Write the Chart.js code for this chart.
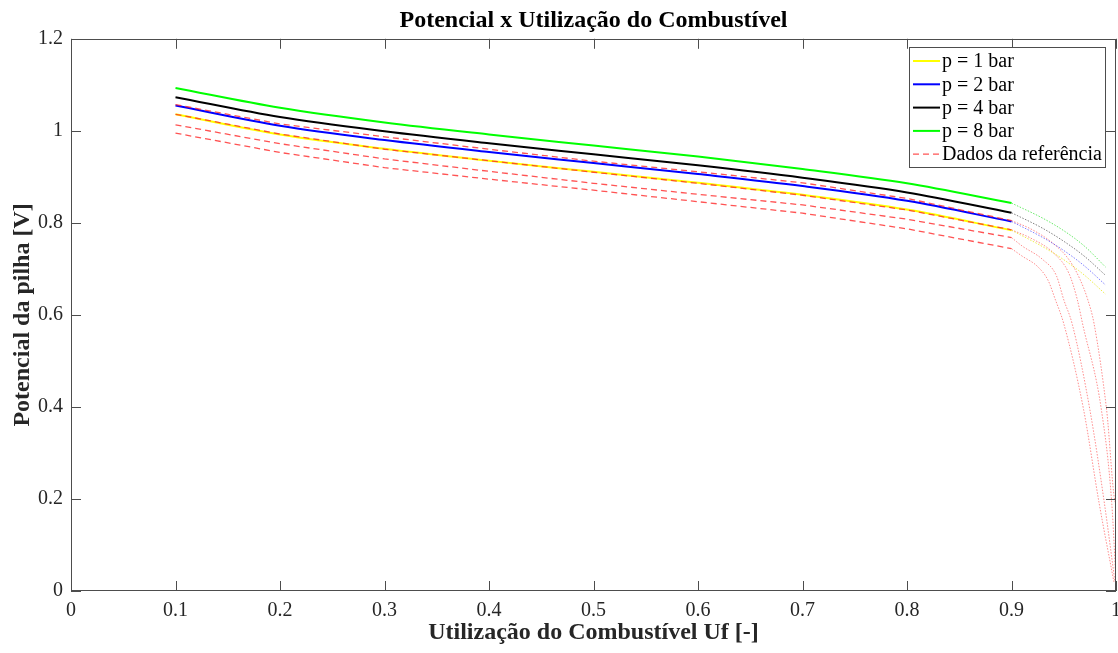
<!DOCTYPE html>
<html lang="pt">
<head>
<meta charset="UTF-8">
<title>Potencial x Utilização do Combustível</title>
<script src="https://cdn.jsdelivr.net/npm/chart.js"></script>
<style>
    body {
        margin: 0;
        padding: 0;
        background: #ffffff;
    }

    .chart-box {
        width: 1118px;
        height: 653px;
    }
</style>
</head>
<body>
<div class="chart-box"><canvas id="curvaPotencial"></canvas></div>

<script>
    // curvas do modelo (linha cheia) de 0.1 a 0.9
    const ufModelo = [0.1, 0.2, 0.3, 0.4, 0.5, 0.6, 0.7, 0.8, 0.9];
    const vP1 = [1.036, 0.992, 0.961, 0.935, 0.911, 0.887, 0.861, 0.829, 0.784];
    const vP2 = [1.055, 1.011, 0.980, 0.954, 0.930, 0.906, 0.880, 0.848, 0.803];
    const vP4 = [1.073, 1.030, 0.999, 0.973, 0.949, 0.925, 0.898, 0.866, 0.822];
    const vP8 = [1.093, 1.050, 1.018, 0.992, 0.968, 0.944, 0.917, 0.886, 0.843];

    // continuação pontilhada do modelo
    const ufCauda = [0.9, 0.93, 0.95, 0.97, 0.99];
    const caudaP1 = [0.784, 0.748, 0.720, 0.686, 0.645];
    const caudaP2 = [0.803, 0.768, 0.740, 0.706, 0.665];
    const caudaP4 = [0.822, 0.788, 0.760, 0.727, 0.686];
    const caudaP8 = [0.843, 0.810, 0.783, 0.749, 0.704];

    // dados da referência (tracejado vermelho)
    const ufRef = [0.1, 0.2, 0.3, 0.4, 0.5, 0.6, 0.7, 0.8, 0.9];
    const ref1 = [1.057, 1.015, 0.987, 0.960, 0.934, 0.911, 0.887, 0.853, 0.805];
    const ref2 = [1.036, 0.993, 0.960, 0.935, 0.910, 0.886, 0.860, 0.828, 0.785];
    const ref3 = [1.013, 0.972, 0.939, 0.912, 0.886, 0.862, 0.839, 0.808, 0.768];
    const ref4 = [0.995, 0.953, 0.920, 0.895, 0.871, 0.846, 0.821, 0.787, 0.744];

    // queda final dos dados da referência (pontilhado vermelho)
    const ufQueda1 = [0.9, 0.92, 0.94, 0.955, 0.965, 0.973, 0.979, 0.991, 1.0, 1.0];
    const vQueda1 = [0.805, 0.785, 0.755, 0.720, 0.680, 0.633, 0.581, 0.394, 0.190, 0.020];
    const ufQueda2 = [0.9, 0.92, 0.94, 0.955, 0.963, 0.968, 0.986, 0.996, 1.0];
    const vQueda2 = [0.785, 0.765, 0.735, 0.690, 0.633, 0.581, 0.394, 0.189, 0.020];
    const ufQueda3 = [0.9, 0.91, 0.93, 0.943, 0.95, 0.958, 0.975, 0.989, 0.999];
    const vQueda3 = [0.768, 0.750, 0.720, 0.685, 0.633, 0.581, 0.394, 0.189, 0.020];
    const ufQueda4 = [0.9, 0.91, 0.925, 0.935, 0.942, 0.95, 0.969, 0.984, 0.998];
    const vQueda4 = [0.744, 0.728, 0.705, 0.675, 0.633, 0.581, 0.394, 0.189, 0.020];

    const xTicks = ['0', '0.1', '0.2', '0.3', '0.4', '0.5', '0.6', '0.7', '0.8', '0.9', '1'];
    const yTicks = ['0', '0.2', '0.4', '0.6', '0.8', '1', '1.2'];

    const fonte = "'Liberation Serif', 'Times New Roman', serif";

    const pares = (xs, ys) => xs.map((x, i) => ({ x: x, y: ys[i] }));

    function cheia(label, cor, xs, ys) {
        return {
            label: label, data: pares(xs, ys), borderColor: cor, borderWidth: 2,
            cubicInterpolationMode: 'monotone', pointRadius: 0, order: 1, noLegenda: false
        };
    }

    function pontilhada(cor, xs, ys) {
        return {
            label: '', data: pares(xs, ys), borderColor: cor, borderWidth: 1,
            borderDash: [1.5, 1.5], cubicInterpolationMode: 'monotone', pointRadius: 0,
            order: 2, noLegenda: true
        };
    }

    function tracejada(label, ys, legenda) {
        return {
            label: label, data: pares(ufRef, ys), borderColor: 'rgba(255,40,40,0.8)',
            borderWidth: 1.3, borderDash: [6, 4], tension: 0, pointRadius: 0,
            order: 0, noLegenda: !legenda
        };
    }

    // moldura com ticks para dentro, como no MATLAB
    const moldura = {
        id: 'moldura',
        afterDatasetsDraw(chart) {
            const { ctx, chartArea: a, scales: { x, y } } = chart;
            ctx.save();
            ctx.strokeStyle = '#4d4d4d';
            ctx.lineWidth = 1;
            ctx.strokeRect(Math.round(a.left) + 0.5, Math.round(a.top) + 0.5,
                Math.round(a.right - a.left) - 1, Math.round(a.bottom - a.top) - 1);
            ctx.beginPath();
            xTicks.forEach(t => {
                const px = Math.round(x.getPixelForValue(parseFloat(t))) + 0.5;
                ctx.moveTo(px, a.bottom); ctx.lineTo(px, a.bottom - 10);
                ctx.moveTo(px, a.top); ctx.lineTo(px, a.top + 10);
            });
            yTicks.forEach(t => {
                const py = Math.round(y.getPixelForValue(parseFloat(t))) + 0.5;
                ctx.moveTo(a.left, py); ctx.lineTo(a.left + 10, py);
                ctx.moveTo(a.right, py); ctx.lineTo(a.right - 10, py);
            });
            ctx.stroke();
            ctx.restore();
        }
    };

    // legenda em caixa no canto superior direito
    const legendaCaixa = {
        id: 'legendaCaixa',
        afterDraw(chart) {
            const ctx = chart.ctx;
            const itens = chart.data.datasets.filter(d => !d.noLegenda);
            const x0 = 909, y0 = 47, w = 196, h = 120, passo = 23.3;
            ctx.save();
            ctx.fillStyle = '#ffffff';
            ctx.fillRect(x0, y0, w, h);
            ctx.strokeStyle = '#4d4d4d';
            ctx.lineWidth = 1;
            ctx.strokeRect(x0 + 0.5, y0 + 0.5, w, h);
            ctx.font = '20px ' + fonte;
            ctx.textBaseline = 'middle';
            itens.forEach((d, i) => {
                const yy = y0 + 14 + i * passo;
                ctx.beginPath();
                ctx.strokeStyle = d.borderColor;
                ctx.lineWidth = d.borderWidth;
                ctx.setLineDash(d.borderDash || []);
                ctx.moveTo(x0 + 4, yy);
                ctx.lineTo(x0 + 31, yy);
                ctx.stroke();
                ctx.setLineDash([]);
                ctx.fillStyle = '#000000';
                ctx.fillText(d.label, x0 + 33, yy + 1);
            });
            ctx.restore();
        }
    };

    new Chart(document.getElementById('curvaPotencial'), {
        type: 'line',
        data: {
            datasets: [
                cheia('p = 1 bar', '#ffff00', ufModelo, vP1),
                cheia('p = 2 bar', '#0000ff', ufModelo, vP2),
                cheia('p = 4 bar', '#000000', ufModelo, vP4),
                cheia('p = 8 bar', '#00ff00', ufModelo, vP8),
                tracejada('Dados da referência', ref1, true),
                tracejada('Dados da referência', ref2, false),
                tracejada('Dados da referência', ref3, false),
                tracejada('Dados da referência', ref4, false),
                pontilhada('rgba(230,230,0,0.7)', ufCauda, caudaP1),
                pontilhada('rgba(0,0,255,0.5)', ufCauda, caudaP2),
                pontilhada('rgba(0,0,0,0.5)', ufCauda, caudaP4),
                pontilhada('rgba(0,220,0,0.6)', ufCauda, caudaP8),
                pontilhada('rgba(255,0,0,0.45)', ufQueda1, vQueda1),
                pontilhada('rgba(255,0,0,0.45)', ufQueda2, vQueda2),
                pontilhada('rgba(255,0,0,0.45)', ufQueda3, vQueda3),
                pontilhada('rgba(255,0,0,0.45)', ufQueda4, vQueda4)
            ]
        },
        options: {
            responsive: true,
            maintainAspectRatio: false,
            animation: false,
            layout: { padding: { left: 0, right: 2, top: 0, bottom: 0 } },
            plugins: {
                legend: { display: false },
                tooltip: { enabled: false },
                title: {
                    display: true,
                    text: 'Potencial x Utilização do Combustível',
                    fullSize: false,
                    color: '#000000',
                    font: { family: fonte, size: 24, weight: 'bold', lineHeight: 1.2 },
                    padding: { top: 6, bottom: 4 }
                }
            },
            scales: {
                x: {
                    type: 'linear',
                    min: 0,
                    max: 1,
                    grid: { display: false, drawTicks: false },
                    border: { display: false },
                    afterBuildTicks: s => { s.ticks = xTicks.map(t => ({ value: parseFloat(t) })); },
                    ticks: {
                        padding: 8,
                        color: '#262626',
                        font: { family: fonte, size: 20 },
                        maxRotation: 0,
                        callback: (v, i) => xTicks[i]
                    },
                    title: {
                        display: true,
                        text: 'Utilização do Combustível Uf [-]',
                        color: '#262626',
                        font: { family: fonte, size: 24, weight: 'bold', lineHeight: 1.2 },
                        padding: { top: 0, bottom: 6 }
                    },
                    afterFit: s => { s.height = 62; s.paddingLeft = 0; s.paddingRight = 0; }
                },
                y: {
                    type: 'linear',
                    min: 0,
                    max: 1.2,
                    grid: { display: false, drawTicks: false },
                    border: { display: false },
                    afterBuildTicks: s => { s.ticks = yTicks.map(t => ({ value: parseFloat(t) })); },
                    ticks: {
                        padding: 8,
                        color: '#262626',
                        font: { family: fonte, size: 20 },
                        callback: (v, i) => yTicks[i]
                    },
                    title: {
                        display: true,
                        text: 'Potencial da pilha [V]',
                        color: '#262626',
                        font: { family: fonte, size: 24, weight: 'bold', lineHeight: 1.2 },
                        padding: { top: 8, bottom: 0 }
                    },
                    afterFit: s => { s.width = 71; s.paddingTop = 0; s.paddingBottom = 0; }
                }
            }
        },
        plugins: [moldura, legendaCaixa]
    });
</script>
</body>
</html>
